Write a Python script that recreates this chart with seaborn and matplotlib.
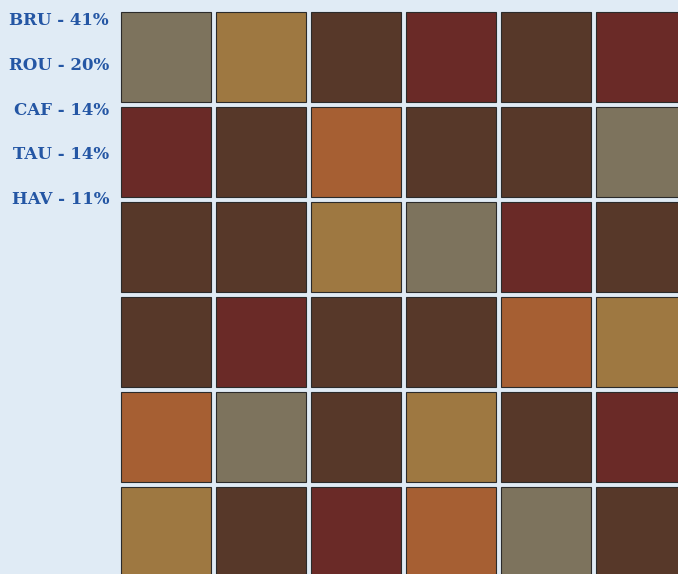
import seaborn as sns
import matplotlib.pyplot as plt
from matplotlib.patches import Rectangle

# Datos de la cuadrícula
codes = ["BRU", "ROU", "CAF", "TAU", "HAV"]
percents = [41, 20, 14, 14, 11]
colors = {"BRU": "#573829", "ROU": "#6A2A27", "CAF": "#9E7841",
          "TAU": "#7D735D", "HAV": "#A65F33"}
grid = [
    ["TAU", "CAF", "BRU", "ROU", "BRU", "ROU"],
    ["ROU", "BRU", "HAV", "BRU", "BRU", "TAU"],
    ["BRU", "BRU", "CAF", "TAU", "ROU", "BRU"],
    ["BRU", "ROU", "BRU", "BRU", "HAV", "CAF"],
    ["HAV", "TAU", "BRU", "CAF", "BRU", "ROU"],
    ["CAF", "BRU", "ROU", "HAV", "TAU", "BRU"],
]

bg = "#E0EBF5"
sns.set_style("white")
fig = plt.figure(figsize=(6.78, 5.74), dpi=100, facecolor=bg)
W, H = 678, 574
pitch = 95
left, top = 118, 9.5
ax = fig.add_axes([left / W, 0, (W - left) / W, (H - top) / H])
ax.set_facecolor(bg)
ax.set_xlim(0, (W - left) / pitch)
ax.set_ylim((H - top) / pitch, 0)
ax.axis("off")

g = 2.5 / pitch
for i, row in enumerate(grid):
    for j, c in enumerate(row):
        ax.add_patch(Rectangle((j + g, i + g), 1 - 2 * g, 1 - 2 * g,
                               facecolor=colors[c], edgecolor="#2b2b2b",
                               linewidth=0.8, clip_on=True))

for k, (code, p) in enumerate(zip(codes, percents)):
    fig.text(109 / W, 1 - (20.5 + 44.8 * k) / H, f"{code} - {p}%",
             ha="right", va="center", fontsize=12, fontweight="bold",
             family="DejaVu Serif", color="#2456A4")

fig.savefig("out.png", dpi=100, facecolor=bg)
